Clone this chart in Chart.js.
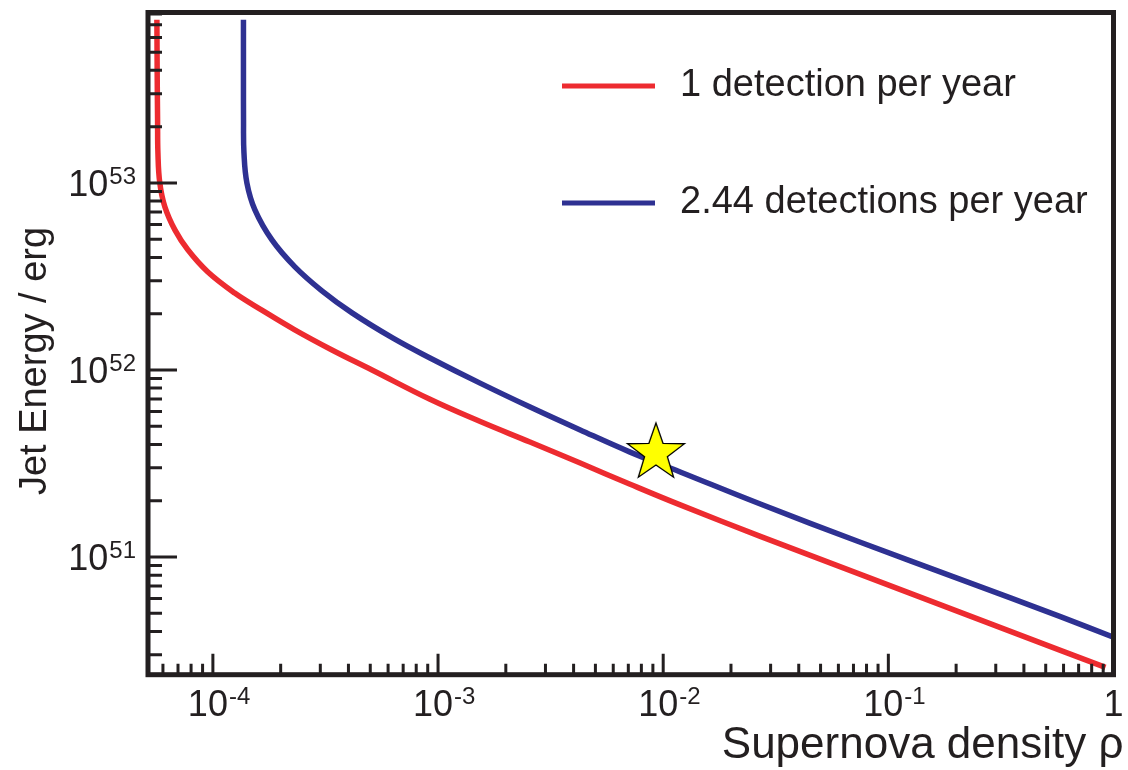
<!DOCTYPE html>
<html>
<head>
<meta charset="utf-8">
<script src="https://cdn.jsdelivr.net/npm/chart.js@4.4.1/dist/chart.umd.min.js"></script>
<style>
html, body { margin: 0; padding: 0; background: #ffffff; }
#wrap { width: 1128px; height: 770px; position: relative; }
</style>
</head>
<body>
<div id="wrap"><canvas id="c" width="1128" height="770"></canvas></div>
<script>
// Detection-rate contours: supernova density (rho) against jet energy (erg)
const rhoOnePerYear = [5.64e-5, 5.66e-5, 5.68e-5, 5.70e-5, 5.81e-5, 6.12e-5, 6.78e-5, 7.74e-5, 9.50e-5,
  1.25e-4, 1.65e-4, 2.31e-4, 3.38e-4, 5.09e-4, 9.21e-4, 1.54e-3, 2.56e-3, 4.28e-3, 7.13e-3,
  1.19e-2, 2.70e-2, 7.51e-2, 0.209, 0.581, 0.921];
const energyOnePerYear = [7.45e53, 3.56e53, 2.17e53, 1.45e53, 1.00e53, 7.45e52, 5.61e52, 4.39e52, 3.34e52,
  2.58e52, 2.09e52, 1.64e52, 1.28e52, 1.00e52, 6.97e51, 5.30e51, 4.12e51, 3.18e51, 2.45e51,
  1.90e51, 1.29e51, 8.08e50, 5.06e50, 3.17e50, 2.57e50];

const rhoTwoPerYear = [1.367e-4, 1.367e-4, 1.368e-4, 1.374e-4, 1.416e-4, 1.537e-4, 1.829e-4, 2.314e-4, 3.05e-4,
  4.15e-4, 6.31e-4, 9.21e-4, 1.537e-3, 2.564e-3, 4.28e-3, 7.13e-3, 1.19e-2, 2.70e-2, 7.51e-2,
  0.209, 0.581, 1.0];
const energyTwoPerYear = [7.45e53, 3.56e53, 2.17e53, 1.45e53, 1.00e53, 7.18e52, 4.96e52, 3.56e52, 2.65e52,
  2.02e52, 1.48e52, 1.16e52, 8.51e51, 6.34e51, 4.78e51, 3.64e51, 2.85e51, 1.92e51, 1.20e51,
  7.60e50, 4.80e50, 3.73e50];

// Highlighted reference point
const starRho = [9.28e-3];
const starEnergy = [3.60e51];

const seriesLabels = ['1 detection per year', '2.44 detections per year'];
const seriesColors = ['#ed2b30', '#2e3192'];
const xTickExponents = [-4, -3, -2, -1, 0];
const yTickExponents = [51, 52, 53];
const xTitle = 'Supernova density ρ';
const yTitle = 'Jet Energy / erg';

const INK = '#231f20';
const FONT = "'Liberation Sans', Arial, Helvetica, sans-serif";

function toPoints(xs, ys) {
  return xs.map((v, i) => ({ x: v, y: ys[i] }));
}

// Filled yellow five-pointed star used as the marker image
function makeStar(R, r) {
  const s = Math.ceil(R * 2 + 4);
  const cv = document.createElement('canvas');
  cv.width = s; cv.height = s;
  const g = cv.getContext('2d');
  const c = s / 2;
  g.beginPath();
  for (let i = 0; i < 10; i++) {
    const ang = -Math.PI / 2 + i * Math.PI / 5;
    const rad = (i % 2) ? r : R;
    const px = c + rad * Math.cos(ang), py = c + rad * Math.sin(ang);
    if (i === 0) g.moveTo(px, py); else g.lineTo(px, py);
  }
  g.closePath();
  g.fillStyle = '#ffff00';
  g.fill();
  g.lineWidth = 1.3;
  g.strokeStyle = '#000000';
  g.lineJoin = 'miter';
  g.stroke();
  return cv;
}

function minorValues(min, max) {
  const out = [];
  for (let d = Math.floor(Math.log10(min)); d <= Math.ceil(Math.log10(max)); d++) {
    for (let m = 2; m <= 9; m++) {
      const v = m * Math.pow(10, d);
      if (v > min && v < max) out.push(v);
    }
  }
  return out;
}

// "10" with a raised exponent
function drawPower(ctx, exp, anchorX, baseY, mode) {
  const baseFont = '36px ' + FONT;
  const supFont = '24px ' + FONT;
  ctx.font = baseFont;
  const wb = ctx.measureText('10').width;
  ctx.font = supFont;
  const supText = String(exp);
  const ws = ctx.measureText(supText).width;
  let left;
  if (mode === 'x') left = anchorX - wb / 2;
  else left = anchorX - wb - ws - 1;
  ctx.textAlign = 'left';
  ctx.textBaseline = 'alphabetic';
  ctx.font = baseFont;
  ctx.fillText('10', left, baseY);
  ctx.font = supFont;
  ctx.fillText(supText, left + wb + 1, baseY - 12);
}

const axisDecor = {
  id: 'axisDecor',
  afterDatasetsDraw(chart) {
    const { ctx, chartArea: a, scales } = chart;
    const xs = scales.x, ys = scales.y;
    ctx.save();
    ctx.strokeStyle = INK;
    ctx.fillStyle = INK;
    ctx.lineCap = 'butt';

    // inward ticks on the bottom and left axes
    ctx.lineWidth = 3;
    ctx.beginPath();
    xTickExponents.forEach(e => {
      const px = xs.getPixelForValue(Math.pow(10, e));
      ctx.moveTo(px, a.bottom); ctx.lineTo(px, a.bottom - 21);
    });
    minorValues(xs.min, xs.max).forEach(v => {
      const px = xs.getPixelForValue(v);
      ctx.moveTo(px, a.bottom); ctx.lineTo(px, a.bottom - 11);
    });
    yTickExponents.forEach(e => {
      const py = ys.getPixelForValue(Math.pow(10, e));
      ctx.moveTo(a.left, py); ctx.lineTo(a.left + 29, py);
    });
    minorValues(ys.min, ys.max).forEach(v => {
      const py = ys.getPixelForValue(v);
      ctx.moveTo(a.left, py); ctx.lineTo(a.left + 14, py);
    });
    ctx.stroke();

    // frame
    ctx.lineWidth = 5;
    ctx.lineJoin = 'miter';
    ctx.strokeRect(a.left, a.top, a.right - a.left, a.bottom - a.top);

    // tick labels
    xTickExponents.forEach(e => {
      const px = xs.getPixelForValue(Math.pow(10, e));
      if (e === 0) {
        ctx.font = '36px ' + FONT;
        ctx.textAlign = 'center';
        ctx.textBaseline = 'alphabetic';
        ctx.fillText('1', px, a.bottom + 41);
      } else {
        drawPower(ctx, e, px - 5, a.bottom + 41, 'x');
      }
    });
    yTickExponents.forEach(e => {
      const py = ys.getPixelForValue(Math.pow(10, e));
      drawPower(ctx, e, a.left - 12, py + 13, 'y');
    });

    // axis titles
    ctx.font = '44px ' + FONT;
    ctx.textAlign = 'right';
    ctx.textBaseline = 'alphabetic';
    ctx.fillText(xTitle, a.right + 10, a.bottom + 83);

    ctx.save();
    ctx.translate(46, 361);
    ctx.rotate(-Math.PI / 2);
    ctx.font = '38px ' + FONT;
    ctx.textAlign = 'center';
    ctx.textBaseline = 'alphabetic';
    ctx.fillText(yTitle, 0, 0);
    ctx.restore();

    // legend
    const legendRows = [86, 203];
    chart.data.datasets.forEach((ds, i) => {
      if (i >= seriesLabels.length) return;
      const ly = legendRows[i];
      ctx.strokeStyle = ds.borderColor;
      ctx.lineWidth = 5;
      ctx.beginPath();
      ctx.moveTo(562, ly); ctx.lineTo(655, ly);
      ctx.stroke();
      ctx.fillStyle = INK;
      ctx.font = '38px ' + FONT;
      ctx.textAlign = 'left';
      ctx.textBaseline = 'middle';
      ctx.fillText(ds.label, 680, ly);
    });
    ctx.restore();
  }
};

new Chart(document.getElementById('c'), {
  type: 'scatter',
  data: {
    datasets: [
      {
        label: seriesLabels[0],
        data: toPoints(rhoOnePerYear, energyOnePerYear),
        showLine: true,
        borderColor: seriesColors[0],
        borderWidth: 5.5,
        pointRadius: 0,
        tension: 0.4,
        fill: false,
        order: 2
      },
      {
        label: seriesLabels[1],
        data: toPoints(rhoTwoPerYear, energyTwoPerYear),
        showLine: true,
        borderColor: seriesColors[1],
        borderWidth: 5.5,
        pointRadius: 0,
        tension: 0.4,
        fill: false,
        order: 1
      },
      {
        label: 'star',
        data: toPoints(starRho, starEnergy),
        showLine: false,
        pointStyle: makeStar(30, 12),
        pointRadius: 30,
        order: 0
      }
    ]
  },
  options: {
    responsive: false,
    animation: false,
    events: [],
    layout: { autoPadding: false, padding: { left: 148, right: 14.5, top: 12.5, bottom: 95.3 } },
    plugins: { legend: { display: false }, tooltip: { enabled: false } },
    scales: {
      x: { type: 'logarithmic', min: 5.15e-5, max: 1, display: false },
      y: { type: 'logarithmic', min: 2.35e50, max: 8.15e53, display: false }
    }
  },
  plugins: [axisDecor]
});
</script>
</body>
</html>
